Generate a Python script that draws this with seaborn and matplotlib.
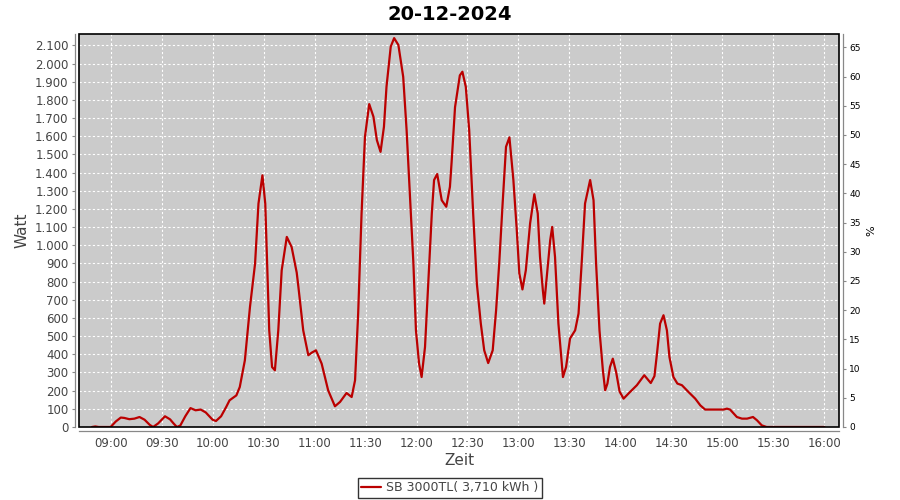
import matplotlib
matplotlib.use("Agg")
import matplotlib.pyplot as plt
import matplotlib.dates as mdates
from matplotlib.patches import Rectangle
from matplotlib.ticker import FuncFormatter, MultipleLocator
import seaborn as sns
import pandas as pd

zeit = [
    "08:49:00", "08:51:00", "08:53:00", "09:00:00", "09:03:00", "09:06:00", "09:08:00",
    "09:11:00", "09:14:00", "09:17:00", "09:20:00", "09:23:00", "09:25:00", "09:28:00",
    "09:32:00", "09:35:00", "09:37:00", "09:39:00", "09:41:00", "09:44:00", "09:47:00",
    "09:50:00", "09:53:00", "09:56:00", "10:00:00", "10:02:00", "10:05:00", "10:08:00",
    "10:10:00", "10:14:00", "10:16:00", "10:19:00", "10:22:00", "10:25:00", "10:27:00",
    "10:29:20", "10:31:00", "10:32:00", "10:33:20", "10:35:00", "10:36:40", "10:38:40",
    "10:40:40", "10:43:40", "10:46:30", "10:49:30", "10:50:30", "10:53:20", "10:56:20",
    "10:58:30", "11:00:50", "11:04:10", "11:08:00", "11:12:00", "11:15:00", "11:18:50",
    "11:21:50", "11:23:50", "11:25:40", "11:27:40", "11:29:40", "11:32:10", "11:34:40",
    "11:36:40", "11:38:50", "11:40:50", "11:42:20", "11:44:50", "11:46:50", "11:49:20",
    "11:52:10", "11:54:10", "11:56:10", "11:58:10", "11:59:40", "12:01:30", "12:03:00",
    "12:05:00", "12:07:00", "12:09:00", "12:10:20", "12:12:10", "12:14:50", "12:17:30",
    "12:19:40", "12:20:40", "12:22:40", "12:25:30", "12:27:00", "12:29:00", "12:31:00",
    "12:33:20", "12:35:30", "12:37:50", "12:39:50", "12:42:10", "12:44:50", "12:46:50",
    "12:48:40", "12:50:40", "12:52:40", "12:54:40", "12:57:00", "12:59:00", "13:00:30",
    "13:02:20", "13:04:20", "13:06:50", "13:09:20", "13:11:20", "13:12:40", "13:14:20",
    "13:15:10", "13:16:40", "13:18:40", "13:19:50", "13:21:30", "13:23:30", "13:26:10",
    "13:28:00", "13:30:20", "13:33:20", "13:35:20", "13:37:10", "13:39:10", "13:42:10",
    "13:44:10", "13:45:40", "13:47:40", "13:49:40", "13:51:00", "13:52:20", "13:53:50",
    "13:55:30", "13:57:30", "13:59:30", "14:01:50", "14:05:40", "14:09:40", "14:14:00",
    "14:17:50", "14:20:00", "14:21:30", "14:23:20", "14:25:20", "14:27:20", "14:28:50",
    "14:31:10", "14:33:30", "14:36:10", "14:40:00", "14:44:00", "14:47:00", "14:49:50",
    "15:00:40", "15:02:40", "15:04:30", "15:08:30", "15:11:30", "15:14:30", "15:18:00",
    "15:20:20", "15:23:10", "15:26:00", "16:00:00",
]
watt = [
    0, 3, 0, 0, 30, 52, 50,
    43, 46, 55, 40, 12, 0, 20,
    59, 42, 20, 0, 8, 60, 104,
    92, 96, 80, 40, 33, 59, 110,
    147, 174, 220, 367, 660, 899, 1229,
    1385, 1229, 936, 532, 330, 312, 532,
    862, 1046, 991, 850, 771, 532, 395,
    410, 422, 349, 202, 114, 138, 187,
    165, 257, 624, 1175, 1597, 1777, 1707,
    1579, 1514, 1652, 1872, 2093, 2140, 2102,
    1927, 1634, 1267, 900, 532, 349, 275,
    440, 808, 1175, 1359, 1392, 1248, 1212,
    1322, 1460, 1760, 1935, 1955, 1872, 1634,
    1175, 790, 569, 422, 352, 422, 643,
    900, 1230, 1542, 1594, 1359, 1083, 845,
    757, 863, 1120, 1281, 1175, 936, 753,
    679, 826, 1028, 1101, 936, 569, 275,
    330, 487, 532, 624, 900, 1230, 1359,
    1248, 900, 532, 312, 202, 239, 330,
    376, 300, 195, 156, 193, 230, 285,
    242, 280, 404, 569, 615, 532, 385,
    275, 239, 230, 193, 156, 119, 96,
    96, 101, 96, 55, 46, 46, 55,
    37, 9, 0, 0,
]
datum = "2024-12-20"
serie = "SB 3000TL( 3,710 kWh )"
nennleistung = 3214  # W entsprechen 100 %

GRAU = "#444444"
ROT = "#bb0000"

df = pd.DataFrame({"Zeit": pd.to_datetime([f"{datum} {t}" for t in zeit]), "Watt": watt})

sns.set_style("white")
plt.rcParams["font.family"] = ["DejaVu Sans"]

fig = plt.figure(figsize=(9, 5), dpi=100)
ax = fig.add_axes([79 / 900, 1 - 427 / 500, 760 / 900, 392.7 / 500])
ax.set_facecolor("#cbcbcb")

sns.lineplot(data=df, x="Zeit", y="Watt", ax=ax, color=ROT, linewidth=1.6,
             estimator=None, sort=False, label=serie, legend=False)

ymax = 2161
ax.set_ylim(0, ymax)
ax.set_xlim(pd.Timestamp(f"{datum} 08:41:24"), pd.Timestamp(f"{datum} 16:08:36"))
ax.yaxis.set_major_locator(MultipleLocator(100))
ax.yaxis.set_major_formatter(FuncFormatter(lambda v, p: f"{int(v):,}".replace(",", ".")))
ax.xaxis.set_major_locator(mdates.MinuteLocator(byminute=[0, 30]))
ax.xaxis.set_major_formatter(mdates.DateFormatter("%H:%M"))

ax.grid(True, color="white", linestyle=(0, (2, 2)), linewidth=0.8)
ax.set_axisbelow(True)

ax.spines["top"].set_visible(False)
ax.spines["right"].set_visible(False)
for side in ["left", "bottom"]:
    ax.spines[side].set_position(("outward", 3))
    ax.spines[side].set_color("#888888")
    ax.spines[side].set_linewidth(0.9)

# schwarzer Rahmen um die Zeichenfläche
ax.add_patch(Rectangle((0, 0), 1, 1, transform=ax.transAxes, fill=False,
                       edgecolor="black", linewidth=1.2, zorder=5, clip_on=False))

ax.tick_params(axis="both", colors="#888888", labelcolor=GRAU, labelsize=8.5,
               length=2.5, width=0.8, direction="out", pad=2)

ax.set_xlabel("Zeit", fontsize=11, color=GRAU, labelpad=2)
ax.set_ylabel("Watt", fontsize=11, color=GRAU, labelpad=4)

# rechte Achse in Prozent der Nennleistung
ax2 = ax.twinx()
ax2.set_ylim(0, ymax / nennleistung * 100)
ax2.yaxis.set_major_locator(MultipleLocator(5))
ax2.grid(False)
for side in ["top", "left", "bottom"]:
    ax2.spines[side].set_visible(False)
ax2.spines["right"].set_position(("outward", 3))
ax2.spines["right"].set_color("#888888")
ax2.spines["right"].set_linewidth(0.9)
ax2.tick_params(axis="y", colors="#888888", labelcolor="black", labelsize=6.5,
                length=2.5, width=0.8, pad=2)
ax2.set_ylabel("%", fontsize=8, color="black", labelpad=4)

fig.suptitle("20-12-2024", fontsize=14, fontweight="bold", color="black", y=0.99)

handles, labels = ax.get_legend_handles_labels()
leg = fig.legend(handles, labels, loc="center", bbox_to_anchor=(0.5, 1 - 488 / 500),
                 frameon=True, fancybox=False, edgecolor="black", fontsize=9,
                 handlelength=1.6, handletextpad=0.4, borderpad=0.3, borderaxespad=0)
leg.get_frame().set_linewidth(1.0)
for t in leg.get_texts():
    t.set_color(GRAU)

fig.savefig("out.png", dpi=100)
